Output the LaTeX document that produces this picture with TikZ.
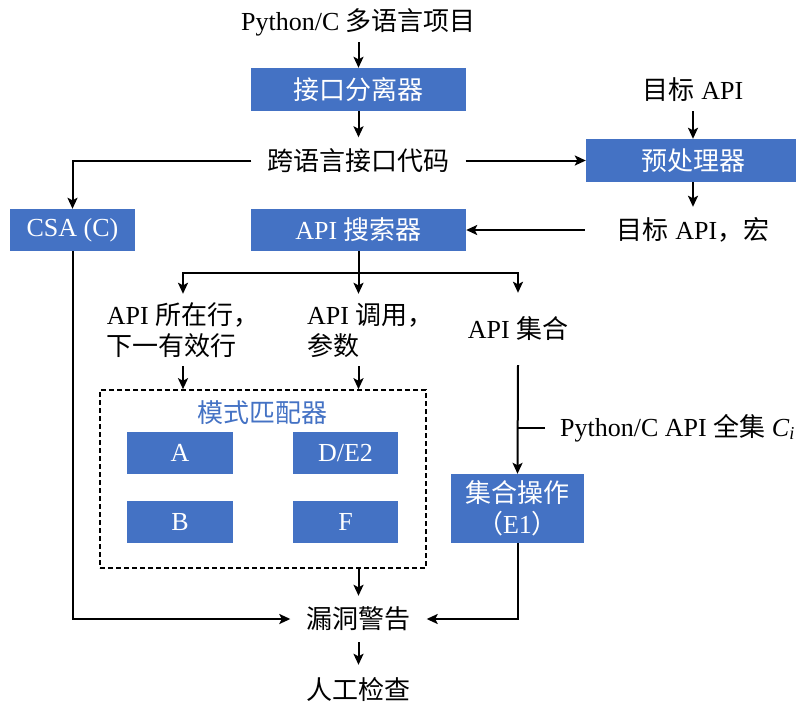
\documentclass[tikz,border=0pt]{standalone}
\usepackage{fontspec}
\setmainfont{Liberation Serif}
\newfontfamily\cjk{Noto Sans CJK SC}
\usetikzlibrary{arrows.meta}
\newcommand\zh[1]{{\cjk #1}}
\definecolor{boxblue}{HTML}{4472C4}

\begin{document}
\begin{tikzpicture}[x=1pt,y=-1pt,
  every node/.style={font=\fontsize{26}{31}\selectfont, inner sep=0pt},
  bluebox/.style={fill=boxblue, text=white},
  arr/.style={line width=2pt, -{Stealth[length=11pt,width=10pt,inset=2.5pt]}},
  ln/.style={line width=2pt}]
\useasboundingbox (0,0) rectangle (796,702);

% upper part: separation and preprocessing
\node[minimum height=40pt] (top) at (358.5,22) {Python/C \zh{多语言项目}};
\node[bluebox, minimum width=215pt, minimum height=43pt] (sep) at (358.5,89.5) {\zh{接口分离器}};
\node[minimum width=214pt, minimum height=46pt] (codes) at (358.5,160.5) {\zh{跨语言接口代码}};
\node[minimum height=42pt] (tapi) at (693,90) {\zh{目标} API};
\node[bluebox, minimum width=214pt, minimum height=43pt] (pre) at (693,160.5) {\zh{预处理器}};
\node[minimum width=216pt, minimum height=46pt] (tapim) at (693,230) {\zh{目标} API\zh{，宏}};
\node[bluebox, minimum width=125pt, minimum height=42pt] (csa) at (72.5,230) {CSA (C)};
\node[bluebox, minimum width=215pt, minimum height=42pt] (search) at (358.5,230) {API \zh{搜索器}};
\coordinate (fork) at (358.5,273);

% search results
\node[align=left, minimum height=72pt] (n1) at (183,330) {API \zh{所在行，}\\\zh{下一有效行}};
\node[align=left, minimum height=72pt, anchor=west] (n2) at (307,330) {API \zh{调用，}\\\zh{参数}};
\node[minimum height=72pt] (n3) at (518,329) {API \zh{集合}};

% pattern matcher
\node[draw, line width=1.6pt, dash pattern=on 5pt off 3pt, minimum width=326pt, minimum height=178pt] (pm) at (263,479) {};
\node[text=boxblue] (pmlabel) at (262,413) {\zh{模式匹配器}};
\node[bluebox, minimum width=106pt, minimum height=42pt] (ma) at (180,453) {A};
\node[bluebox, minimum width=105pt, minimum height=42pt] (md) at (345.5,453) {D/E2};
\node[bluebox, minimum width=106pt, minimum height=42pt] (mb) at (180,522) {B};
\node[bluebox, minimum width=105pt, minimum height=42pt] (mf) at (345.5,522) {F};

% set operation
\node[bluebox, align=center, minimum width=133pt, minimum height=69pt] (setop) at (517.5,508.5) {\zh{集合操作}\\\zh{（}E1\zh{）}};
\node[anchor=west, inner xsep=15pt] (full) at (545,428) {Python/C API \zh{全集} \textit{C}\textsubscript{\textit{i}}};

% results
\node[minimum width=136pt, minimum height=46pt] (warn) at (358.5,619) {\zh{漏洞警告}};
\node[minimum height=50pt] (check) at (358.5,690) {\zh{人工检查}};

% connectors
\draw[arr] (top) -- (sep);
\draw[arr] (sep) -- (codes);
\draw[arr] (codes.west) -| (csa.north);
\draw[arr] (codes.east) -- (pre.west);
\draw[arr] (tapi) -- (pre);
\draw[arr] (pre) -- (tapim);
\draw[arr] (tapim.west) -- (search.east);
\draw[ln] (search.south) -- (fork);
\draw[arr] (fork) -| (n1.north);
\draw[arr] (fork) -| (n3.north);
\draw[arr] (fork) -- (fork |- n1.north);
\draw[arr] (n1.south) -- (n1.south |- pm.north);
\draw[arr] (fork |- n1.south) -- (fork |- pm.north);
\draw[arr] (n3.south) -- (setop.north);
\draw[ln] (full.west) -- (n3.south |- full.west);
\draw[arr] (warn.north |- pm.south) -- (warn.north);
\draw[arr] (warn) -- (check);
\draw[arr] (csa.south) |- (warn.west);
\draw[arr] (setop.south) |- (warn.east);
\end{tikzpicture}
\end{document}
